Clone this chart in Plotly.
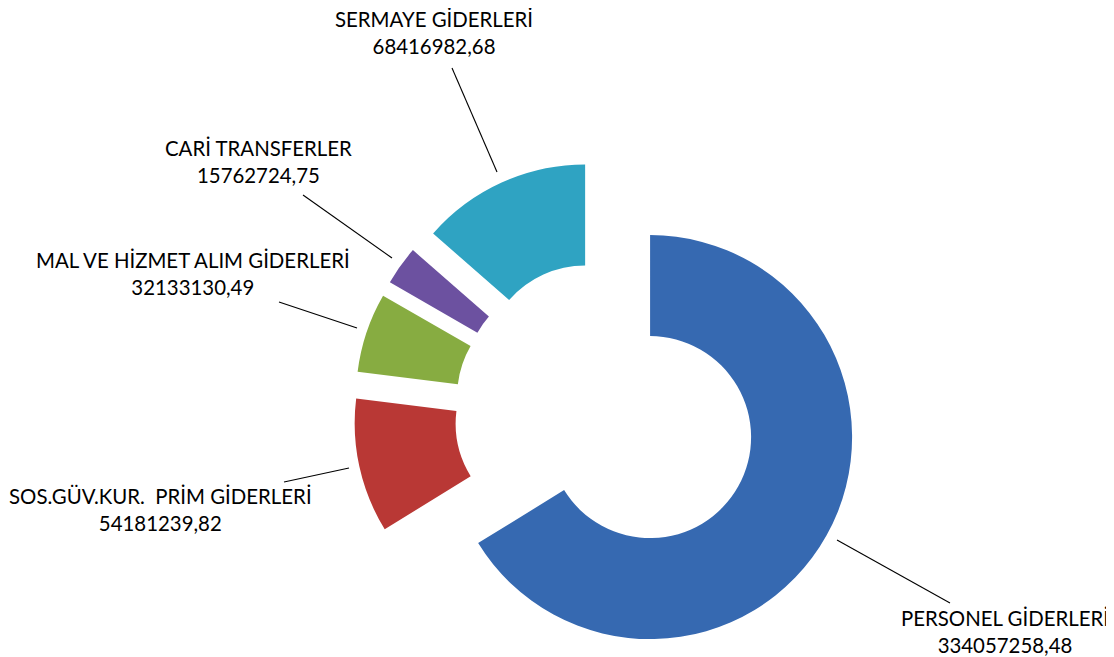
import plotly.graph_objects as go

# ---- data ----
categories = [
    "PERSONEL GİDERLERİ",
    "SOS.GÜV.KUR.  PRİM GİDERLERİ",
    "MAL VE HİZMET ALIM GİDERLERİ",
    "CARİ TRANSFERLER",
    "SERMAYE GİDERLERİ",
]
values = [334057258.48, 54181239.82, 32133130.49, 15762724.75, 68416982.68]
value_labels = ["334057258,48", "54181239,82", "32133130,49", "15762724,75", "68416982,68"]
colors = ["#3669B1", "#B93835", "#87AC41", "#6C51A0", "#2FA3C2"]

W, H = 1114, 657
OFF = 8  # page body margin offset of the plot div


def px(x):
    return (x - OFF) / W


def py(y):
    return 1 - (y - OFF) / H


# pie box (screen pixels)
cx, cy, half = 606, 412.5, 252.5

fig = go.Figure()
fig.add_trace(go.Pie(
    labels=categories,
    values=values,
    sort=False,
    direction="clockwise",
    rotation=0,
    hole=0.5,
    pull=[0.25] * len(values),
    marker=dict(colors=colors, line=dict(width=0)),
    textinfo="none",
    hoverinfo="label+value+percent",
    showlegend=False,
    domain=dict(x=[px(cx - half), px(cx + half)],
                y=[max(0, py(cy + half)), py(cy - half)]),
))

# label positions (text center, screen pixels) and leader lines
label_pos = [(1005, 631), (160, 509), (193, 273), (258, 161), (434, 32)]
leaders = [
    ((837, 540), (950, 603)),
    ((284, 482), (349, 468)),
    ((279, 302), (357, 328)),
    ((303, 195), (392, 258)),
    ((452, 68), (497, 172)),
]

annotations = []
shapes = []
for name, vl, (tx, ty), ((x0, y0), (x1, y1)) in zip(categories, value_labels, label_pos, leaders):
    annotations.append(dict(
        x=px(tx), y=py(ty), xref="paper", yref="paper",
        text=f"{name}<br>{vl}", showarrow=False,
        xanchor="center", yanchor="middle", align="center",
        font=dict(family="Lato, Carlito, Arial", size=20.4, color="#000000"),
    ))
    shapes.append(dict(
        type="line", xref="paper", yref="paper",
        x0=px(x0), y0=py(y0), x1=px(x1), y1=py(y1),
        line=dict(color="#000000", width=1.1),
    ))

fig.update_layout(
    width=W, height=H,
    margin=dict(l=0, r=0, t=0, b=0),
    paper_bgcolor="white",
    plot_bgcolor="white",
    annotations=annotations,
    shapes=shapes,
)

fig.write_html("out.html")
